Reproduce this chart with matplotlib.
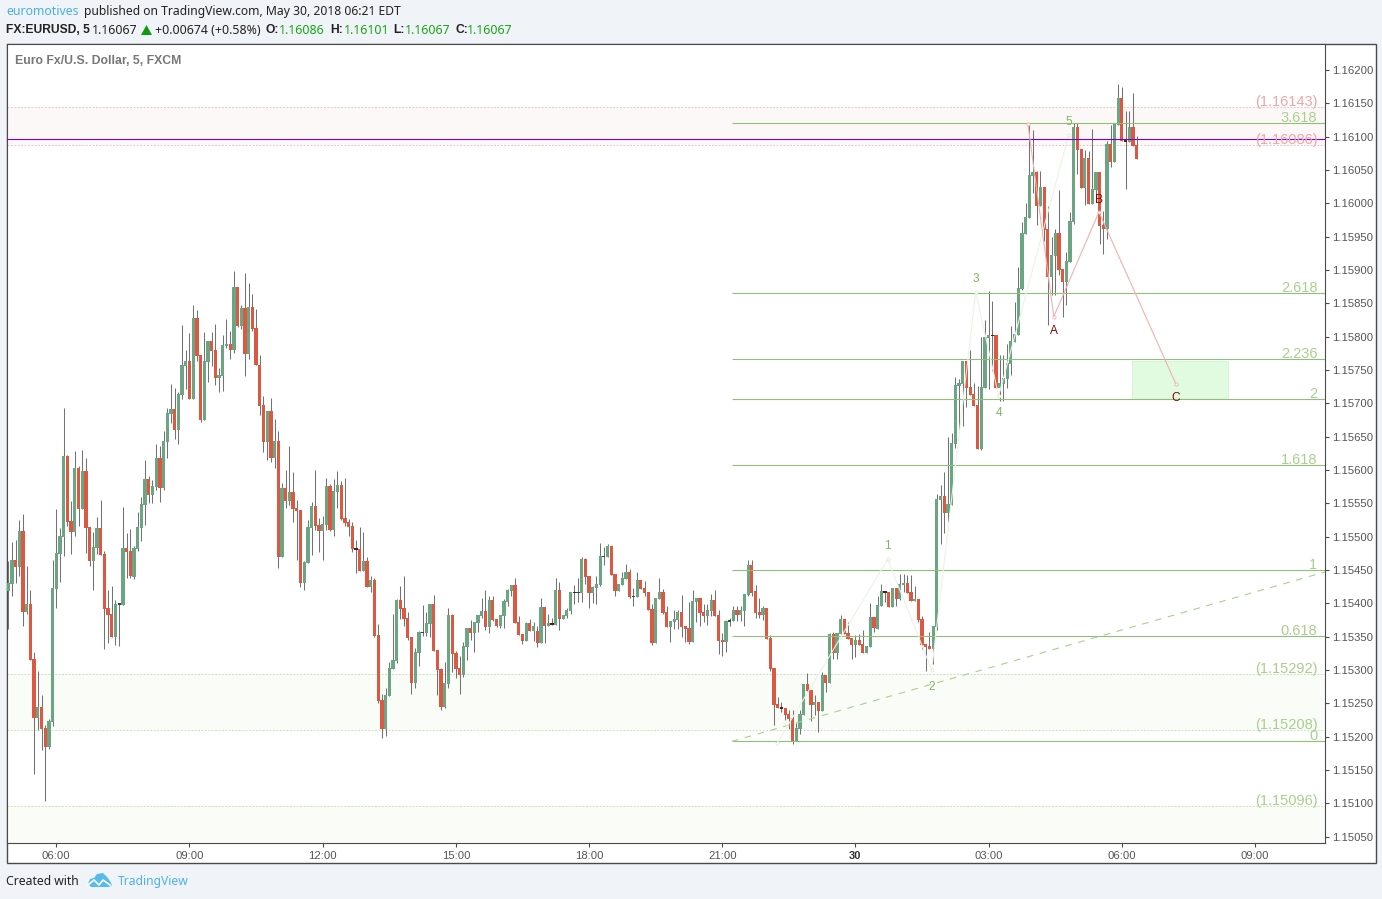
import numpy as np
import matplotlib
matplotlib.use("Agg")
import matplotlib.pyplot as plt
from matplotlib.patches import Rectangle, Polygon

W, H = 1382, 899
direction = ("GGRGRGRRGR" "RGGGGGRRGR" "GRRGGRRRRG" "GGRRGGGGRG" "GRGGGRGGGR" "GRRGGRRGGG"
             "RGRGRGRRRR" "GRGRGRGRRR" "GGGRRGGRGG" "RRRRRRGRGR" "RRGGGGRRRR" "GGGGGRRRGG"
             "RRRGGRGGGR" "GRRGGGGRRR" "GRGRGRGRGR" "GGGRGGRRGG" "GGGRRGGGRG" "GRRRRGGRRG"
             "GGRRRGGRRG" "GRRRGGGRGG" "GRRRGRRRRR" "RRRGGGRRGR" "GRGRGGRRRG" "RRGGRGGRRG"
             "RGGRRGRRRR" "GGGRGGGGGR" "RRRGGGRRGG" "GGGGGGGGRG" "RRGGRRGGGR" "RGRGGRRGRG"
             "GRRGRR")
body_top = [
115430,115465,115465,115508,115508,115399,115399,115316,115244,115244,
115213,115223,115423,115475,115501,115621,115621,115523,115603,115603,
115598,115598,115514,115484,115513,115513,115474,115393,115384,115399,
115399,115483,115483,115478,115483,115515,115549,115586,115586,115576,
115618,115618,115643,115685,115691,115691,115714,115757,115763,115763,
115828,115828,115772,115763,115793,115793,115780,115742,115787,115789,
115789,115874,115874,115843,115843,115844,115844,115813,115757,115697,
115688,115688,115643,115643,115573,115573,115567,115567,115543,115540,
115462,115514,115546,115546,115517,115519,115576,115576,115568,115577,
115577,115528,115522,115516,115483,115481,115463,115463,115435,115435,
115352,115255,115262,115303,115315,115405,115405,115393,115378,115349,
115327,115357,115357,115370,115399,115399,115330,115301,115280,115382,
115382,115325,115303,115336,115363,115363,115372,115382,115388,115388,
115405,115405,115376,115382,115403,115420,115427,115427,115372,115354,
115370,115370,115366,115358,115394,115394,115370,115370,115420,115420,
115382,115390,115417,115417,115417,115466,115466,115441,115424,115429,
115471,115471,115486,115486,115444,115429,115438,115447,115447,115411,
115435,115435,115423,115417,115391,115408,115417,115417,115387,115373,
115376,115387,115387,115366,115363,115403,115408,115408,115387,115390,
115405,115405,115382,115345,115373,115375,115390,115390,115390,115414,
115457,115457,115418,115387,115393,115393,115348,115303,115249,115244,
115243,115234,115228,115213,115234,115279,115279,115270,115252,115252,
115292,115292,115354,115354,115355,115376,115376,115355,115348,115345,
115345,115339,115336,115379,115379,115397,115418,115418,115417,115423,
115423,115429,115430,115430,115417,115406,115406,115376,115339,115336,
115366,115556,115561,115561,115549,115640,115727,115730,115763,115763,
115724,115714,115697,115724,115799,115802,115802,115802,115730,115738,
115761,115794,115804,115873,115956,115980,116043,116047,116047,116025,
116025,115962,115923,115956,115956,115902,115914,115974,116115,116115,
116082,116068,116068,116022,116047,116047,115968,116089,116089,116119,
116158,116158,116095,116115,116115,116087]
body_bot = [
115419,115429,115454,115454,115387,115387,115315,115228,115228,115211,
115184,115184,115222,115421,115474,115499,115522,115507,115507,115541,
115541,115513,115463,115463,115483,115472,115391,115382,115349,115349,
115398,115397,115477,115441,115440,115481,115513,115547,115562,115562,
115574,115573,115573,115642,115684,115660,115660,115712,115756,115706,
115706,115771,115675,115675,115762,115778,115738,115738,115741,115786,
115780,115780,115816,115816,115774,115774,115811,115757,115696,115642,
115642,115618,115618,115469,115469,115553,115553,115541,115538,115430,
115430,115460,115513,115516,115508,115508,115517,115510,115510,115567,
115526,115520,115514,115481,115480,115448,115448,115424,115424,115351,
115253,115211,115211,115261,115301,115313,115391,115376,115348,115280,
115280,115325,115355,115355,115369,115328,115300,115244,115244,115279,
115324,115301,115292,115292,115334,115355,115355,115370,115381,115364,
115364,115375,115366,115366,115381,115402,115418,115370,115352,115343,
115343,115358,115358,115340,115340,115366,115366,115367,115367,115376,
115376,115381,115388,115415,115415,115415,115439,115415,115415,115423,
115427,115469,115469,115442,115418,115418,115427,115436,115409,115409,
115409,115421,115415,115390,115340,115340,115406,115385,115364,115364,
115372,115375,115364,115361,115342,115342,115402,115385,115381,115381,
115388,115381,115343,115342,115342,115372,115373,115382,115382,115388,
115412,115415,115385,115382,115382,115346,115301,115247,115243,115241,
115232,115226,115193,115193,115211,115232,115268,115247,115247,115238,
115238,115280,115280,115325,115325,115354,115354,115346,115337,115337,
115337,115325,115325,115334,115363,115361,115396,115415,115394,115394,
115406,115406,115427,115415,115403,115403,115375,115337,115334,115331,
115331,115364,115555,115535,115535,115547,115639,115726,115729,115723,
115712,115696,115631,115631,115723,115798,115801,115723,115723,115729,
115737,115759,115792,115803,115872,115954,115978,116041,115996,115996,
115960,115890,115890,115921,115900,115882,115882,115912,115972,116080,
116023,116023,115999,115999,116020,115966,115962,115962,116062,116062,
116118,116094,116092,116092,116086,116067]
wick_high = [
115463,115492,115495,115525,115534,115456,115420,115327,115298,115262,
115217,115226,115465,115541,115513,115693,115622,115553,115628,115606,
115630,115618,115514,115507,115529,115555,115478,115420,115426,115405,
115399,115544,115505,115511,115486,115537,115560,115615,115591,115585,
115639,115636,115658,115693,115729,115723,115717,115817,115780,115805,
115847,115840,115772,115807,115793,115807,115819,115753,115802,115826,
115808,115898,115874,115847,115895,115880,115864,115842,115772,115711,
115688,115708,115676,115658,115580,115600,115636,115597,115555,115540,
115463,115525,115552,115600,115528,115531,115588,115579,115586,115598,
115583,115588,115526,115522,115495,115514,115507,115469,115441,115438,
115369,115264,115273,115312,115384,115406,115426,115441,115387,115349,
115333,115358,115397,115387,115399,115412,115330,115303,115312,115393,
115384,115328,115321,115342,115363,115375,115372,115382,115408,115420,
115411,115411,115376,115382,115406,115421,115427,115438,115381,115354,
115372,115376,115372,115366,115408,115394,115384,115378,115438,115432,
115382,115393,115417,115427,115438,115469,115468,115441,115426,115441,
115490,115484,115489,115486,115444,115429,115447,115459,115451,115423,
115447,115435,115433,115417,115399,115408,115438,115421,115396,115373,
115390,115390,115412,115366,115402,115420,115408,115408,115399,115399,
115414,115420,115390,115355,115375,115378,115396,115396,115396,115414,
115465,115465,115427,115408,115396,115393,115352,115303,115259,115252,
115243,115240,115240,115220,115240,115279,115295,115270,115262,115252,
115297,115292,115355,115357,115355,115382,115376,115372,115348,115352,
115354,115360,115336,115400,115379,115411,115429,115418,115417,115423,
115423,115444,115444,115442,115442,115426,115406,115381,115339,115357,
115366,115564,115577,115597,115649,115655,115739,115736,115763,115763,
115780,115730,115726,115799,115825,115868,115853,115802,115773,115773,
115789,115816,115852,115905,115972,116001,116120,116110,116049,116049,
116025,115996,115950,115962,116020,115902,115927,115987,116121,116121,
116082,116080,116079,116112,116047,116047,115989,116094,116118,116119,
116179,116175,116139,116139,116166,116101]
wick_low = [
115362,115411,115431,115441,115366,115384,115315,115144,115210,115180,
115103,115181,115216,115393,115432,115471,115516,115474,115501,115516,
115541,115475,115456,115420,115474,115472,115331,115340,115349,115337,
115336,115397,115438,115438,115437,115478,115493,115517,115550,115550,
115570,115552,115570,115618,115670,115646,115639,115706,115721,115706,
115706,115763,115672,115675,115732,115756,115727,115717,115718,115783,
115766,115775,115814,115811,115741,115766,115808,115757,115682,115627,
115615,115612,115603,115453,115469,115543,115547,115522,115465,115424,
115420,115460,115472,115510,115477,115465,115510,115508,115501,115543,
115525,115516,115501,115477,115445,115448,115448,115424,115417,115349,
115250,115198,115201,115261,115301,115310,115376,115366,115345,115264,
115273,115306,115351,115351,115349,115328,115262,115240,115243,115273,
115297,115288,115264,115289,115315,115345,115327,115357,115378,115360,
115355,115373,115364,115363,115363,115396,115411,115370,115352,115339,
115343,115358,115343,115334,115340,115340,115366,115367,115367,115360,
115376,115378,115384,115399,115402,115402,115429,115393,115400,115399,
115426,115457,115469,115442,115411,115418,115427,115436,115408,115396,
115409,115421,115411,115390,115337,115340,115406,115384,115364,115342,
115361,115361,115349,115342,115339,115342,115372,115366,115372,115367,
115381,115381,115324,115321,115327,115366,115373,115373,115373,115366,
115411,115411,115378,115378,115375,115346,115298,115217,115243,115237,
115225,115211,115189,115193,115204,115232,115268,115223,115232,115207,
115238,115267,115280,115316,115316,115354,115354,115346,115316,115319,
115337,115325,115325,115334,115357,115361,115396,115402,115394,115394,
115396,115405,115417,115415,115403,115403,115372,115331,115298,115331,
115309,115360,115489,115505,115522,115547,115633,115657,115666,115694,
115712,115696,115631,115630,115723,115721,115748,115723,115704,115704,
115723,115743,115792,115803,115870,115954,115978,116016,115968,115996,
115944,115818,115863,115863,115893,115830,115848,115912,115969,116044,
116023,115998,115999,115999,116002,115939,115924,115947,116055,116062,
116118,116094,116022,116092,116086,116067]

price_ticks = [1.15050,1.15100,1.15150,1.15200,1.15250,1.15300,1.15350,1.15400,1.15450,1.15500,1.15550,
               1.15600,1.15650,1.15700,1.15750,1.15800,1.15850,1.15900,1.15950,1.16000,1.16050,1.16100,1.16150,1.16200]
time_ticks = [13,49,85,121,157,193,229,265,301,337]
time_labels = ["06:00","09:00","12:00","15:00","18:00","21:00","30","03:00","06:00","09:00"]

fib_labels = ["3.618","2.618","2.236","2","1.618","1","0.618","0"]
fib_prices = [1.16120,1.15865,1.15767,1.15706,1.15607,1.15450,1.15351,1.15193]
fib_start = 195.6
zone_red = [1.16144,1.16087]
zone_red_labels = ["(1.16143)","(1.16086)"]
zone_green_a = [1.15294,1.15210]
zone_green_a_labels = ["(1.15292)","(1.15208)"]
zone_green_b = [1.15096,1.15040]
zone_green_b_label = "(1.15096)"
last_line = 1.16096
trend_x = [195.6,355.9]
trend_y = [1.15193,1.15447]
wave_x = [207.8,237.7,249.6,261.5,267.7,286.6]
wave_y = [1.15190,1.15466,1.15300,1.15867,1.15711,1.16102]
wave_labels = ["","1","2","3","4","5"]
abc_x = [275.6,282.6,294.8,315.6]
abc_y = [1.16119,1.15830,1.15987,1.15729]
abc_labels = ["","A","B","C"]
box_x = [303.8,329.7]
box_y = [1.15706,1.15763]

BG="#F0F3F7"; AX="#4A4A4A"; GRN="#6BA583"; RED="#DC5843"; WICK="#737375"
FIB="#90C078"; FIBTXT="#A8D08D"; TICK="#555555"
SANS=["Noto Sans","DejaVu Sans"]; AR=["Liberation Sans","DejaVu Sans"]

fig=plt.figure(figsize=(W/100,H/100),dpi=100,facecolor=BG)
def px(x,y): return x/W,1-y/H
def ftext(x,y,s,**k):
    a,b=px(x,y+0.8); k.setdefault("va","center"); k.setdefault("family",SANS); k.setdefault("fontsize",8.75)
    return fig.text(a,b,s,zorder=10,**k)

fig.add_artist(Rectangle((6.5/W,1-862.5/H),(1376-6.5)/W,(862.5-43.5)/H,transform=fig.transFigure,fc="white",ec=AX,lw=1,zorder=-1))
ax=fig.add_axes([6.5/W,1-843/H,(1325-6.5)/W,(843-44)/H],zorder=2)
ax.set_facecolor("white")
ax.set_xlim(-0.46,355.9)
ax.set_ylim(1.150405,1.16239)
for s in ax.spines.values(): s.set_color(AX); s.set_linewidth(0.8)
ax.yaxis.tick_right()
ax.set_yticks(price_ticks)
ax.set_yticklabels([f"{p:.5f}" for p in price_ticks],fontsize=8.1,color=TICK,family=AR)
ax.set_xticks(time_ticks)
ax.set_xticklabels(time_labels,fontsize=8.1,color=TICK,family=AR)
ax.get_xticklabels()[6].set_fontweight("bold")
ax.get_xticklabels()[6].set_color("#333333")
ax.tick_params(axis="x",length=3,width=0.8,color=AX,pad=3)
ax.tick_params(axis="y",length=3,width=0.8,color=AX,pad=2)

xr=ax.get_xlim()
def band(vals,fc,ec):
    ax.axhspan(vals[1],vals[0],fc=fc,ec="none",zorder=0)
    for v in vals:
        if v>ax.get_ylim()[0]+1e-4:
            ax.axhline(v,color=ec,lw=0.7,ls=(0,(2,1.5)),zorder=1)
band(zone_red,"#FDF8F8","#F2C4C4")
band(zone_green_a,"#FAFCF8","#C8E4B4")
band(zone_green_b,"#FAFCF8","#C8E4B4")

up=np.array([d=="G" for d in direction])
top=np.array(body_top)/1e5; bot=np.array(body_bot)/1e5
hi=np.array(wick_high)/1e5; lo=np.array(wick_low)/1e5
opens=np.where(up,bot,top); closes=np.where(up,top,bot)
idx=np.arange(len(opens))
ax.vlines(idx,lo,hi,color=WICK,lw=0.75,zorder=3)
small=np.abs(opens-closes)<=0.00003
cols=[("#225437" if u else "#5B1A13") if s else (GRN if u else RED) for u,s in zip(up,small)]
ax.bar(idx,np.maximum(top-bot,0.00002),bottom=bot,width=0.87,color=cols,lw=0,zorder=4)

for p in fib_prices:
    ax.hlines(p,fib_start,xr[1],color=FIB,lw=0.8,zorder=5)
ax.plot(trend_x,trend_y,color="#A8D08D",lw=0.8,ls=(0,(6,6)),zorder=5)
ax.axhline(last_line,color="#7D00D0",lw=0.8,zorder=6)
ax.add_patch(Rectangle((box_x[0],box_y[0]),box_x[1]-box_x[0],box_y[1]-box_y[0],fc="#E0FBE0",ec="#D4F2D4",lw=0.6,zorder=2))
ax.plot(wave_x,wave_y,color="#EAF3E4",lw=0.8,marker="o",ms=2.3,mfc="white",mec="#D8E8CE",mew=0.5,zorder=5)
ax.plot(abc_x,abc_y,color="#F3B0B0",lw=0.8,marker="o",ms=2.3,mfc="white",mec="#F0A0A0",mew=0.5,zorder=6)

pt=ax.get_yaxis_transform()
def rlabel(p,s,c,dy=5):
    ax.annotate(s,(1,p),xycoords=pt,xytext=(-5.5,dy*0.72),textcoords="offset points",ha="right",va="center",
                color=c,fontsize=10.5,family=AR,zorder=7)
for p,l in zip(fib_prices,fib_labels): rlabel(p,l,FIBTXT)
for p,l in zip(zone_red,zone_red_labels): rlabel(p,l,"#F0A6A6")
for p,l in zip(zone_green_a,zone_green_a_labels): rlabel(p,l,FIBTXT)
rlabel(zone_green_b[0],zone_green_b_label,FIBTXT)

offs={"1":9.5,"2":-12,"3":9.5,"4":-12,"5":9.5}
for x,y,l in zip(wave_x,wave_y,wave_labels):
    if l:
        ax.annotate(l,(x,y),xytext=(0,offs[l]),textcoords="offset points",ha="center",va="center",
                    color="#7DB663",fontsize=8.6,family=AR,zorder=7)
offs2={"A":-10,"B":9,"C":-10}
for x,y,l in zip(abc_x,abc_y,abc_labels):
    if l:
        ax.annotate(l,(x,y),xytext=(0,offs2[l]),textcoords="offset points",ha="center",va="center",
                    color="#8B0000",fontsize=8.6,family=AR,zorder=7)
ftext(15,60,"Euro Fx/U.S. Dollar, 5, FXCM",fontsize=8.8,fontweight="bold",color="#777777",family=AR)

# header
ftext(6,11,"euromotives",color="#4AB0E4",fontsize=8.9)
ftext(84,11,"published on TradingView.com, May 30, 2018 06:21 EDT",color="#222222")
ftext(6,29.5,"FX:EURUSD, 5",color="#222222",fontsize=8.7,fontweight="bold",family=AR)
ftext(92,29.5,"1.16067",color="#222222",fontsize=8.9)
fig.add_artist(Polygon([(141/W,1-35/H),(152/W,1-35/H),(146.5/W,1-25/H)],transform=fig.transFigure,fc="#109A10",ec="none",zorder=10))
ftext(155,29.5,"+0.00674 (+0.58%)",color="#222222",fontsize=8.9)
GTXT="#16A516"
for x,s in [(265,"O:"),(330,"H:"),(393,"L:"),(455,"C:")]:
    ftext(x,29.5,s,color="#222222",fontsize=8.7,fontweight="bold",family=AR)
for x,s in [(279,"1.16086"),(344,"1.16101"),(405,"1.16067"),(467,"1.16067")]:
    ftext(x,29.5,s,color=GTXT,fontsize=8.9)

# footer
ftext(6,881,"Created with",color="#222222")
ftext(118,881,"TradingView",color="#4DB2E6")
logo=[(88,884),(90,879),(94,878),(97,874),(103,873),(107,877),(110,881),(112,885),(109,887),(91,887)]
fig.add_artist(Polygon([(x/W,1-y/H) for x,y in logo],transform=fig.transFigure,fc="#55BCEA",ec="none",zorder=10))
zig=[(88,885),(94,880),(99,885),(103,880),(110,885)]
fig.add_artist(plt.Line2D([x/W for x,y in zig],[1-y/H for x,y in zig],transform=fig.transFigure,color="white",lw=1.2,zorder=11))

fig.savefig("out.png",dpi=100,facecolor=BG)
